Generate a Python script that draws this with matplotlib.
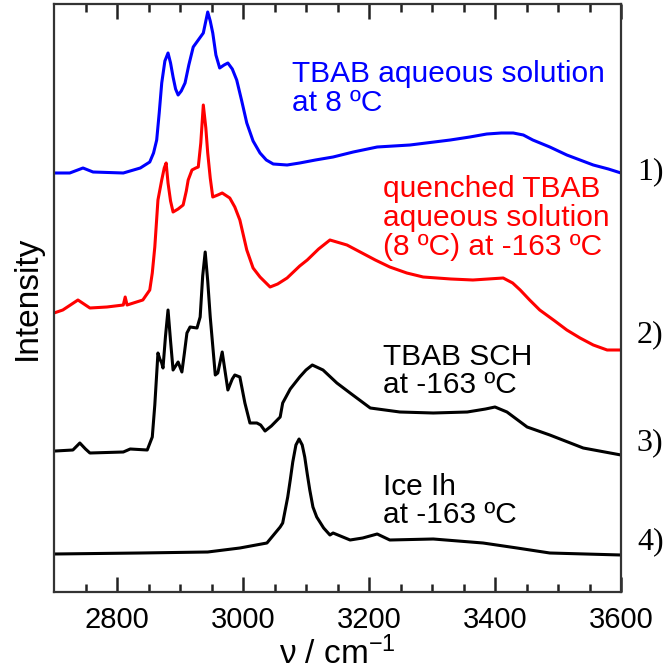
import numpy as np
import matplotlib
matplotlib.use('Agg')
import matplotlib.pyplot as plt
import matplotlib.transforms as mtransforms

plt.rcParams['font.family'] = ['Liberation Sans', 'DejaVu Sans']
plt.rcParams['mathtext.default'] = 'regular'

# spectra: wavenumber (cm-1) and intensity above each trace's own baseline
wn_aq = [2700, 2725, 2746, 2762, 2810, 2837, 2852, 2858, 2863, 2867, 2871, 2876, 2881,
         2885, 2889, 2893, 2897, 2902, 2908, 2914, 2921, 2929, 2937, 2941, 2944, 2948,
         2952, 2957, 2963, 2970, 2976, 2983, 2990, 2998, 3006, 3016, 3027, 3037, 3048,
         3070, 3090, 3115, 3143, 3175, 3213, 3265, 3329, 3360, 3387, 3410, 3429, 3445,
         3460, 3487, 3514, 3535, 3556, 3580, 3600]
int_aq = [0, 0, 5, 1, 0, 5, 11, 20, 33, 60, 90, 112, 120,
          110, 96, 84, 78, 82, 90, 108, 126, 133, 140, 152, 161, 152,
          140, 118, 105, 108, 110, 104, 93, 72, 50, 32, 20, 13, 9,
          8, 10, 13, 16, 21, 26, 28, 33, 36, 39, 40, 40, 38,
          33, 26, 18, 13, 8, 4, 0]

wn_quench = [2700, 2714, 2738, 2757, 2784, 2810, 2813, 2816, 2841, 2852, 2856, 2860, 2865,
             2871, 2875, 2878, 2881, 2885, 2889, 2897, 2905, 2910, 2913, 2919, 2925, 2929,
             2933, 2937, 2941, 2944, 2948, 2952, 2960, 2967, 2979, 2987, 2995, 3006, 3016,
             3027, 3043, 3055, 3070, 3090, 3102, 3120, 3138, 3165, 3186, 3210, 3233, 3260,
             3286, 3330, 3365, 3413, 3428, 3440, 3455, 3471, 3495, 3514, 3535, 3556, 3578,
             3600]
int_quench = [0, 3, 13, 5, 6, 8, 16, 8, 13, 23, 40, 66, 113,
              133, 145, 150, 130, 112, 101, 104, 108, 122, 133, 143, 145, 146,
              170, 208, 185, 160, 135, 116, 118, 120, 115, 106, 93, 63, 45,
              36, 26, 29, 35, 47, 53, 64, 73, 68, 61, 53, 46, 40,
              36, 34, 33, 35, 30, 23, 13, 3, -8, -17, -25, -32, -37,
              -37]

wn_sch = [2702, 2730, 2741, 2750, 2757, 2810, 2821, 2848, 2856, 2860, 2865, 2868, 2871,
          2873, 2877, 2881, 2885, 2889, 2897, 2903, 2907, 2911, 2916, 2927, 2932, 2936,
          2940, 2944, 2948, 2956, 2960, 2964, 2967, 2971, 2976, 2983, 2987, 2995, 3003,
          3011, 3022, 3028, 3035, 3045, 3059, 3063, 3075, 3090, 3100, 3110, 3127, 3149,
          3170, 3202, 3249, 3302, 3356, 3385, 3400, 3419, 3451, 3487, 3540, 3600]
int_sch = [0, 1, 8, 2, -2, -1, 2, 1, 14, 46, 98, 92, 88,
           83, 115, 141, 110, 81, 89, 79, 98, 118, 124, 123, 134, 175,
           199, 170, 134, 76, 78, 90, 99, 82, 61, 72, 76, 74, 48,
           28, 28, 26, 20, 25, 34, 48, 62, 74, 81, 86, 81, 68,
           58, 43, 39, 38, 39, 42, 44, 39, 24, 16, 3, -4]

wn_ice = [2700, 2837, 2944, 2995, 3038, 3059, 3063, 3071, 3075, 3079, 3084, 3089, 3094,
          3098, 3102, 3106, 3111, 3117, 3128, 3138, 3143, 3170, 3190, 3213, 3233, 3302,
          3381, 3435, 3487, 3600]
int_ice = [0, 1, 2, 6, 11, 27, 31, 57, 74, 92, 109, 115, 109,
           97, 80, 64, 47, 37, 26, 19, 21, 14, 16, 20, 14, 15,
           11, 6, 1, -1]

offsets = [419, 279, 141, 38]
colors = ['#0000ff', '#ff0000', 'black', 'black']
trace_labels = ['1)', '2)', '3)', '4)']

fig = plt.figure(figsize=(6.68, 6.72), dpi=100)
ax = fig.add_axes([54 / 668, 1 - 592 / 672, 567 / 668, 588 / 672])

series = [(wn_aq, int_aq), (wn_quench, int_quench), (wn_sch, int_sch), (wn_ice, int_ice)]
for (wn, inten), off, c in zip(series, offsets, colors):
    ax.plot(wn, np.array(inten) + off, color=c, lw=2.2, solid_joinstyle='round')

ax.set_xlim(2700, 3600)
ax.set_ylim(0, 588)
ax.set_xticks([2800, 3000, 3200, 3400, 3600])
ax.set_xticks([2750, 2850, 2900, 2950, 3050, 3100, 3150, 3250, 3300, 3350, 3450, 3500, 3550],
              minor=True)
ax.set_yticks([])
ax.tick_params(axis='x', which='both', direction='in', top=True, bottom=True,
               width=1.8, color='#222222')
ax.tick_params(axis='x', which='major', length=11, labelsize=21, pad=10)
ax.tick_params(axis='x', which='minor', length=6)
for s in ax.spines.values():
    s.set_linewidth(1.6)
    s.set_color('#333333')

ax.set_xlabel('ν / cm$^{-1}$', fontsize=24, labelpad=2)
ax.set_ylabel('Intensity', fontsize=24, labelpad=8)

fs = 21.5
ax.text(3078, 592 - 82, 'TBAB aqueous solution', color='#0000ff', fontsize=fs)
ax.text(3078, 592 - 111, 'at 8 ºC', color='#0000ff', fontsize=fs)
ax.text(3222, 592 - 197, 'quenched TBAB', color='#ff0000', fontsize=fs)
ax.text(3222, 592 - 226, 'aqueous solution', color='#ff0000', fontsize=fs)
ax.text(3222, 592 - 255, '(8 ºC) at -163 ºC', color='#ff0000', fontsize=fs)
ax.text(3222, 592 - 365, 'TBAB SCH', color='black', fontsize=fs)
ax.text(3222, 592 - 393, 'at -163 ºC', color='black', fontsize=fs)
ax.text(3222, 592 - 495, 'Ice Ih', color='black', fontsize=fs)
ax.text(3222, 592 - 523, 'at -163 ºC', color='black', fontsize=fs)

trans = mtransforms.blended_transform_factory(ax.transAxes, ax.transData)
label_y = [420, 257, 149, 50]
for lab, yy in zip(trace_labels, label_y):
    ax.text(1.028, yy, lab, transform=trans, fontsize=23, va='center',
            family='Liberation Serif', clip_on=False)

fig.savefig('out.png', dpi=100)
